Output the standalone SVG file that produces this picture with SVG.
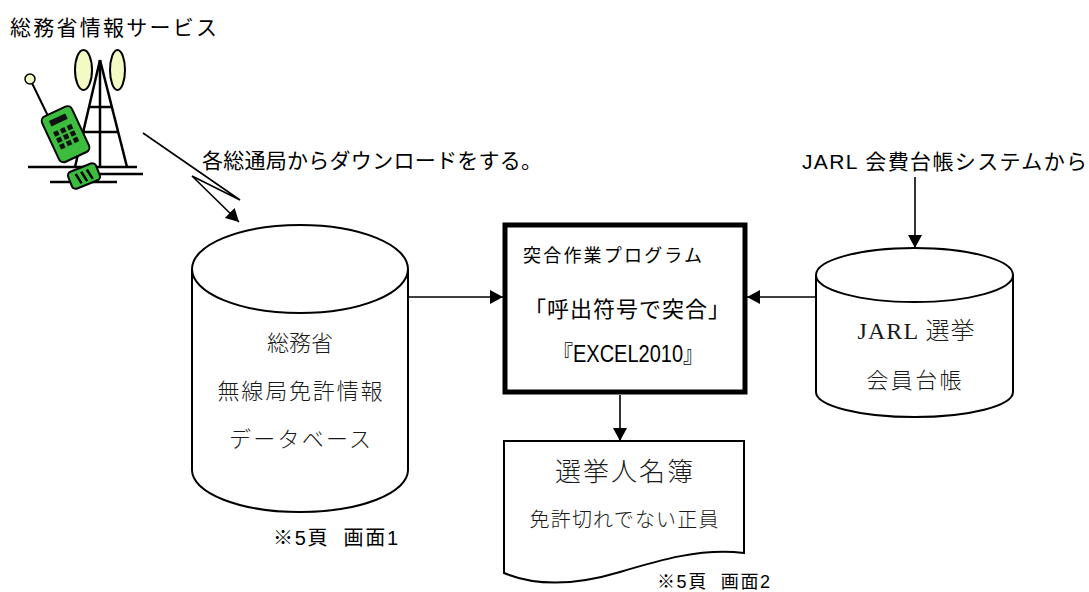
<svg xmlns="http://www.w3.org/2000/svg" width="1089" height="592" viewBox="0 0 1089 592">
  <style>
    .goth { font-family: "Liberation Sans", "Noto Sans CJK JP", sans-serif; fill: #000; }
    .min { font-family: "Liberation Serif", "Noto Sans CJK JP", serif; fill: #1a1a1a; font-weight: 300; }
    .shape { fill: #fff; stroke: #000; stroke-width: 2; }
    .conn { fill: none; stroke: #000; stroke-width: 1.6; }
    .ink { stroke: #000; stroke-linecap: butt; fill: none; }
  </style>
  <defs>
    <marker id="ah" markerWidth="14" markerHeight="14" refX="13" refY="7" orient="auto" markerUnits="userSpaceOnUse">
      <path d="M0,0 L13,7 L0,14 Z" fill="#000"/>
    </marker>
  </defs>
  <rect width="1089" height="592" fill="#fff"/>

  <!-- heading -->
  <text class="goth" x="10" y="35" font-size="21" textLength="207">総務省情報サービス</text>

  <!-- antenna tower and handset icon -->
  <g id="icon">
    <g class="ink" stroke-width="2.5">
      <line x1="100" y1="60" x2="75" y2="167"/>
      <line x1="100" y1="60" x2="127" y2="167"/>
      <line x1="100" y1="60" x2="100" y2="167"/>
      <line x1="89" y1="107" x2="112" y2="107"/>
      <line x1="83" y1="132" x2="118" y2="132"/>
      <line x1="28" y1="167" x2="137" y2="167"/>
      <line x1="100" y1="174" x2="143" y2="174"/>
      <line x1="50" y1="182" x2="117" y2="182"/>
    </g>
    <ellipse cx="83.5" cy="70" rx="8.5" ry="20" fill="#f4fac4" stroke="#000" stroke-width="2"/>
    <ellipse cx="117.5" cy="70" rx="7.5" ry="20" fill="#f4fac4" stroke="#000" stroke-width="2"/>
    <line x1="30" y1="79" x2="48" y2="116" stroke="#000" stroke-width="2"/>
    <circle cx="30" cy="79" r="5" fill="#f4fac4" stroke="#000" stroke-width="1.5"/>
    <g transform="translate(66,134) rotate(-25)">
      <rect x="-17" y="-25" width="33" height="50" rx="5" fill="#3dbd3d" stroke="#000" stroke-width="2"/>
      <rect x="-10" y="-19" width="18" height="6" fill="#111"/>
      <g fill="#111">
        <rect x="-11" y="-7" width="5" height="5"/><rect x="-3.5" y="-7" width="5" height="5"/><rect x="4" y="-7" width="5" height="5"/>
        <rect x="-11" y="0" width="5" height="5"/><rect x="-3.5" y="0" width="5" height="5"/><rect x="4" y="0" width="5" height="5"/>
        <rect x="-11" y="7" width="5" height="5"/><rect x="-3.5" y="7" width="5" height="5"/><rect x="4" y="7" width="5" height="5"/>
      </g>
    </g>
    <g transform="translate(84,176) rotate(-22)">
      <rect x="-15" y="-9" width="30" height="18" rx="4" fill="#3dbd3d" stroke="#000" stroke-width="2"/>
      <g class="ink" stroke-width="2.5">
        <line x1="-7" y1="-5" x2="-5" y2="6"/>
        <line x1="-1" y1="-5" x2="1" y2="6"/>
        <line x1="5" y1="-5" x2="7" y2="6"/>
      </g>
    </g>
  </g>

  <!-- edge labels -->
  <text class="goth" x="202" y="168" font-size="21" textLength="340">各総通局からダウンロードをする。</text>
  <text class="goth" x="802" y="169" font-size="21" textLength="285">JARL 会費台帳システムから</text>

  <!-- connectors -->
  <g id="connectors">
    <polyline class="conn" points="143,133 240,200 192,176 239,222" marker-end="url(#ah)"/>
    <line class="conn" x1="408" y1="297" x2="503" y2="297" marker-end="url(#ah)"/>
    <line class="conn" x1="816" y1="297" x2="747" y2="297" marker-end="url(#ah)"/>
    <line class="conn" x1="915" y1="177" x2="915" y2="248" marker-end="url(#ah)"/>
    <line class="conn" x1="620" y1="395" x2="620" y2="441" marker-end="url(#ah)"/>
  </g>

  <!-- licence database cylinder -->
  <g id="node-licence-db">
    <path class="shape" d="M192,269 V470 A108,42 0 0 0 408,470 V269"/>
    <ellipse class="shape" cx="300" cy="269" rx="108" ry="44"/>
    <text class="min" x="300" y="351" font-size="22" text-anchor="middle">総務省</text>
    <text class="min" x="300" y="399" font-size="22" text-anchor="middle" textLength="165">無線局免許情報</text>
    <text class="min" x="300" y="447" font-size="22" text-anchor="middle" textLength="142">データベース</text>
    <text class="goth" x="273" y="545" font-size="20" textLength="125" xml:space="preserve">※5頁  画面1</text>
  </g>

  <!-- matching program -->
  <g id="node-program">
    <rect x="505" y="225" width="240" height="167" fill="#fff" stroke="#000" stroke-width="5"/>
    <text class="goth" x="523" y="262" font-size="18" textLength="179">突合作業プログラム</text>
    <text class="goth" x="524" y="317" font-size="22" textLength="206">「呼出符号で突合」</text>
    <text class="goth" x="553" y="362" font-size="23" textLength="150" lengthAdjust="spacingAndGlyphs">『EXCEL2010』</text>
  </g>

  <!-- JARL member ledger cylinder -->
  <g id="node-jarl-db">
    <path class="shape" d="M816,275 V392 A98.5,25 0 0 0 1013,392 V275"/>
    <ellipse class="shape" cx="914.5" cy="275" rx="98.5" ry="27"/>
    <text class="min" x="916" y="339" font-size="24" text-anchor="middle" textLength="117">JARL 選挙</text>
    <text class="min" x="914" y="388" font-size="22" text-anchor="middle" textLength="95">会員台帳</text>
  </g>

  <!-- voter roll document -->
  <g id="node-roll">
    <path class="shape" d="M504,441 H744 V553 C700,548 660,560 620,572 C580,584 540,588 504,573 Z"/>
    <text class="min" x="624" y="481" font-size="26" text-anchor="middle" textLength="138">選挙人名簿</text>
    <text class="min" x="624" y="527" font-size="20" text-anchor="middle" textLength="189">免許切れでない正員</text>
    <text class="goth" x="657" y="588" font-size="18" textLength="113" xml:space="preserve">※5頁  画面2</text>
  </g>
</svg>
